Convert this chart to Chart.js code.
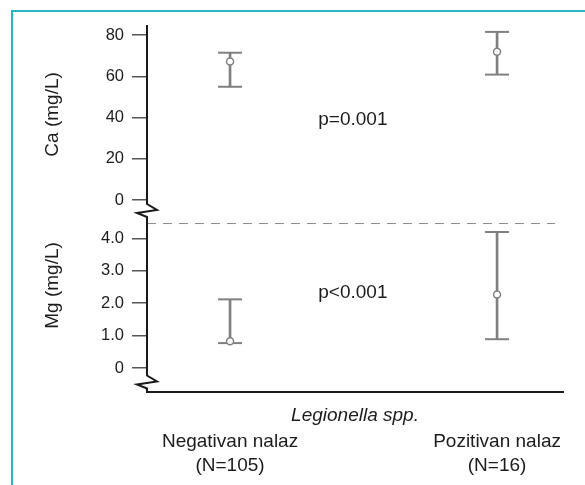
<!DOCTYPE html>
<html>
<head>
<meta charset="utf-8">
<script src="https://cdn.jsdelivr.net/npm/chart.js@4.4.1/dist/chart.umd.min.js"></script>
<style>
  html, body { margin: 0; padding: 0; background: #fff; }
  #frame { position: absolute; left: 11px; top: 10px; width: 620px; height: 520px;
           border-top: 2px solid #2ab4c8; border-left: 2px solid #2ab4c8; }
  #chart { position: absolute; left: 0; top: 0; }
</style>
</head>
<body>
<div id="frame"></div>
<canvas id="chart" width="585" height="485"></canvas>
<script>
const groups = ['Negativan nalaz', 'Pozitivan nalaz'];
const groupN = ['(N=105)', '(N=16)'];
const xTitle = 'Legionella spp.';

const caMean = [67.2, 71.9];
const caLow = [54.9, 60.8];
const caHigh = [71.4, 81.5];
const caTicks = [0, 20, 40, 60, 80];
const caTickLabels = ['0', '20', '40', '60', '80'];

const mgMean = [0.83, 2.27];
const mgLow = [0.77, 0.89];
const mgHigh = [2.12, 4.20];
const mgTicks = [0, 1, 2, 3, 4];
const mgTickLabels = ['0', '1.0', '2.0', '3.0', '4.0'];

const pValues = ['p=0.001', 'p<0.001'];
const yTitles = ['Ca (mg/L)', 'Mg (mg/L)'];
const breakValue = 4.46; // dashed line between the two panels (Mg scale)

const FONT = "'Liberation Sans', Arial, sans-serif";
const TXT = '#1c1c1c';
const barColor = '#808080';
const xMin = -0.311, xMax = 1.247;

function errorSets(mean, low, high, axis) {
    const at = arr => arr.map((v, i) => ({ x: i, y: v }));
    return [
        {
            type: 'bar', xAxisID: 'x', yAxisID: axis, order: 2,
            data: low.map((v, i) => ({ x: i, y: [v, high[i]] })),
            backgroundColor: barColor, borderWidth: 0, barThickness: 2, grouped: false
        },
        {
            type: 'line', xAxisID: 'x', yAxisID: axis, order: 1, showLine: false,
            data: at(low).concat(at(high)),
            pointStyle: 'line', pointRadius: 12, pointBorderColor: barColor, pointBorderWidth: 2
        },
        {
            type: 'line', xAxisID: 'x', yAxisID: axis, order: 0, showLine: false,
            data: at(mean),
            pointStyle: 'circle', pointRadius: 3.5, pointBackgroundColor: '#fff',
            pointBorderColor: barColor, pointBorderWidth: 1.5
        }
    ];
}

function yScale(ticks, labels, min, max, weight) {
    return {
        type: 'linear', position: 'left', stack: 'left', stackWeight: weight, min: min, max: max,
        afterBuildTicks: s => { s.ticks = ticks.map(v => ({ value: v })); },
        afterFit: s => { s.width = 147; },
        ticks: {
            callback: v => labels[ticks.indexOf(v)],
            font: { family: FONT, size: 16.5 }, color: TXT, padding: 8
        },
        grid: { drawOnChartArea: false, drawTicks: true, tickLength: 15, color: '#555', lineWidth: 1.5 },
        border: { display: false }
    };
}

// axis breaks, dashed separator, p-values and y titles
const decor = {
    id: 'decor',
    afterDraw(chart) {
        const { ctx, chartArea: a, scales } = chart;
        const ca = scales.yCa, mg = scales.yMg, x = scales.x;
        ctx.save();

        ctx.strokeStyle = '#8a8a8a';
        ctx.lineWidth = 1;
        ctx.setLineDash([9, 7]);
        const yb = mg.getPixelForValue(breakValue);
        ctx.beginPath();
        ctx.moveTo(a.left, yb);
        ctx.lineTo(a.right - 8, yb);
        ctx.stroke();
        ctx.setLineDash([]);

        const zig = [[10, 6], [-10, 9], [0, 13]];
        const z1 = ca.bottom - 4;
        const z2 = mg.getPixelForValue(-0.23);
        ctx.strokeStyle = '#1a1a1a';
        ctx.lineWidth = 2;
        ctx.beginPath();
        ctx.moveTo(a.left, a.top);
        ctx.lineTo(a.left, z1);
        zig.forEach(([dx, dy]) => ctx.lineTo(a.left + dx, z1 + dy));
        ctx.lineTo(a.left, z2);
        zig.forEach(([dx, dy]) => ctx.lineTo(a.left + dx, z2 + dy));
        ctx.lineTo(a.left, a.bottom + 1);
        ctx.stroke();

        ctx.fillStyle = TXT;
        ctx.font = '19px ' + FONT;
        ctx.textAlign = 'center';
        ctx.textBaseline = 'middle';
        ctx.fillText(pValues[0], x.getPixelForValue(0.46), ca.getPixelForValue(39));
        ctx.fillText(pValues[1], x.getPixelForValue(0.46), mg.getPixelForValue(2.31));

        ctx.font = '19px ' + FONT;
        [[yTitles[0], ca.getPixelForValue(41.5)], [yTitles[1], mg.getPixelForValue(2.55)]].forEach(([t, y]) => {
            ctx.save();
            ctx.translate(a.left - 94, y);
            ctx.rotate(-Math.PI / 2);
            ctx.fillText(t, 0, 0);
            ctx.restore();
        });
        ctx.restore();
    }
};

new Chart(document.getElementById('chart'), {
    type: 'bar',
    data: {
        datasets: [
            ...errorSets(caMean, caLow, caHigh, 'yCa'),
            ...errorSets(mgMean, mgLow, mgHigh, 'yMg')
        ]
    },
    options: {
        responsive: false,
        animation: false,
        layout: { padding: { top: 25, right: 22, bottom: 4.4, left: 0 } },
        plugins: { legend: { display: false }, tooltip: { enabled: false } },
        scales: {
            x: {
                type: 'linear', position: 'bottom', min: xMin, max: xMax, offset: false,
                grid: { display: false, drawTicks: false, offset: false },
                border: { display: true, color: '#1a1a1a', width: 2 },
                ticks: { display: false },
                title: {
                    display: true, text: xTitle, color: TXT,
                    font: { family: FONT, size: 19, style: 'italic', lineHeight: 1.2 },
                    padding: { top: 12.6, bottom: 0 }
                }
            },
            x2: {
                type: 'linear', position: 'bottom', min: xMin, max: xMax, offset: false,
                grid: { display: false, drawTicks: false, offset: false },
                border: { display: false },
                afterBuildTicks: s => { s.ticks = groups.map((g, i) => ({ value: i })); },
                ticks: {
                    callback: v => [groups[v], groupN[v]],
                    font: { family: FONT, size: 19, lineHeight: 1.263 },
                    color: TXT, padding: 2.6, maxRotation: 0, autoSkip: false
                }
            },
            yMg: yScale(mgTicks, mgTickLabels, -0.74, 4.94, 184),
            yCa: yScale(caTicks, caTickLabels, -3.88, 84.85, 183)
        }
    },
    plugins: [decor]
});
</script>
</body>
</html>
